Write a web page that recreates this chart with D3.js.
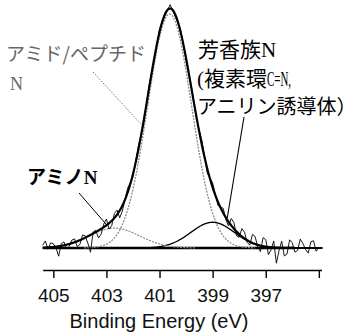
<!DOCTYPE html>
<html>
<head>
<meta charset="utf-8">
<script src="https://cdn.jsdelivr.net/npm/d3@7"></script>
<style>
  body { margin: 0; background: #fff; }
</style>
</head>
<body>
<svg id="chart" width="364" height="333"></svg>
<script>
// raw N1s spectrum (0.1 eV in the noisy tails, 0.2 eV over the peak)
const energies = [405.4, 405.3, 405.2, 405.1, 405.0, 404.9, 404.8, 404.7, 404.6, 404.5,
  404.4, 404.3, 404.2, 404.1, 404.0, 403.9, 403.8, 403.7, 403.6, 403.5,
  403.4, 403.3, 403.2, 403.1, 403.0, 402.9, 402.8, 402.7, 402.6, 402.5,
  402.4, 402.2, 402.0, 401.8, 401.6, 401.4, 401.2, 401.0, 400.8, 400.6,
  400.4, 400.2, 400.0, 399.8, 399.6, 399.4, 399.2, 399.0, 398.8, 398.6,
  398.5, 398.4, 398.3, 398.2, 398.1, 398.0, 397.9, 397.8, 397.7, 397.6,
  397.5, 397.4, 397.3, 397.2, 397.1, 397.0, 396.9, 396.8, 396.7, 396.6,
  396.5, 396.4, 396.3, 396.2, 396.1, 396.0, 395.9, 395.8, 395.7, 395.6,
  395.5, 395.4, 395.3, 395.2, 395.1, 395.0];
const counts = [1.2, 3.0, -0.5, 2.2, 1.8, 0.2, -3.5, 1.9, 2.6, -0.4,
  0.8, 3.4, 3.9, 0.6, 1.5, 5.6, 5.2, 2.1, -1.8, 6.9,
  7.5, 4.3, 5.9, 10.2, 12.4, 8.1, 9.6, 14.8, 16.2, 12.9,
  15.8, 25.6, 30.4, 43.5, 53.0, 69.1, 80.2, 93.5, 99.1, 104.0,
  98.7, 92.9, 80.3, 69.0, 54.6, 45.7, 31.9, 27.8, 18.2, 16.9,
  12.0, 9.4, 12.6, 10.9, 5.2, 4.6, 8.3, 6.8, 2.4, 1.2,
  5.8, 4.9, 0.3, -1.5, 4.4, 3.6, -2.8, -0.8, 3.0, -6.5,
  -1.2, 2.9, -3.4, -2.6, 3.5, 2.2, -1.8, -1.0, 3.8, 1.9,
  -0.6, -2.2, 2.7, 3.1, -1.4, 0.4];

// fitted peaks: centre (eV), height, gaussian sigma (eV)
const peakNames = ["amide", "aromatic", "amino"];
const peakCenters = [400.62, 399.0, 402.7];
const peakHeights = [100, 11, 8.5];
const peakSigmas = [0.83, 0.82, 0.95];

const tickValues = [405, 403, 401, 399, 397, 395];
const tickLabels = ["405", "403", "401", "399", "397", ""];

const svg = d3.select("#chart");

const x = d3.scaleLinear().domain([405.4, 394.9]).range([42.7, 321.5]);
const y = d3.scaleLinear().domain([0, 100]).range([248, 14]);

const gauss = (i, e) => peakHeights[i] * Math.exp(-0.5 * Math.pow((e - peakCenters[i]) / peakSigmas[i], 2));
const grid = d3.range(405.4, 394.85, -0.02);

// baseline
svg.append("line")
  .attr("x1", x(405.4)).attr("x2", x(395.9))
  .attr("y1", y(0)).attr("y2", y(0))
  .attr("stroke", "#000").attr("stroke-width", 2.5);

const line = d3.line().x(d => x(d[0])).y(d => y(d[1]));

// components
const compStyle = {
  amide: { stroke: "#8a8a8a", width: 1.3, dash: "2,1.2" },
  aromatic: { stroke: "#000", width: 1.3, dash: null },
  amino: { stroke: "#8a8a8a", width: 1.2, dash: "2,1.2" }
};
peakNames.forEach((name, i) => {
  const pts = grid.map(e => [e, gauss(i, e)]).filter(d => d[1] > 0.05);
  svg.append("path")
    .attr("d", line(pts))
    .attr("fill", "none")
    .attr("stroke", compStyle[name].stroke)
    .attr("stroke-width", compStyle[name].width)
    .attr("stroke-dasharray", compStyle[name].dash);
});

// envelope
const env = grid.map(e => [e, peakNames.reduce((s, n, i) => s + gauss(i, e), 0)]);
svg.append("path")
  .attr("d", line(env))
  .attr("fill", "none")
  .attr("stroke", "#000")
  .attr("stroke-width", 2.2);

// raw data
svg.append("path")
  .attr("d", line(energies.map((e, i) => [e, counts[i]])))
  .attr("fill", "none")
  .attr("stroke", "#000")
  .attr("stroke-width", 0.9);

// pointers
svg.append("line").attr("x1", 93).attr("y1", 72).attr("x2", x(401.7)).attr("y2", 124)
  .attr("stroke", "#777").attr("stroke-width", 1).attr("stroke-dasharray", "1.5,1.5");
svg.append("line").attr("x1", 244).attr("y1", 117).attr("x2", x(398.45)).attr("y2", 218)
  .attr("stroke", "#000").attr("stroke-width", 1.1);
svg.append("line").attr("x1", 79).attr("y1", 193).attr("x2", x(403.02)).attr("y2", 224)
  .attr("stroke", "#000").attr("stroke-width", 1);

// labels
const jp = "'Noto Sans CJK JP', sans-serif";
const serif = "'Liberation Serif', serif";

svg.append("text").attr("x", 6).attr("y", 61)
  .style("font-family", jp).style("font-size", "19px").attr("fill", "#666")
  .text("アミド/ペプチド");
svg.append("text").attr("x", 10).attr("y", 90)
  .style("font-family", serif).style("font-size", "18px").attr("fill", "#666")
  .text("N");

const a1 = svg.append("text").attr("x", 198).attr("y", 57)
  .style("font-family", jp).style("font-size", "21px").attr("fill", "#000");
a1.append("tspan").text("芳香族");
a1.append("tspan").style("font-family", serif).text("N");

const a2 = svg.append("text").attr("x", 197).attr("y", 86)
  .style("font-family", jp).style("font-size", "21px").attr("fill", "#000");
a2.append("tspan").style("font-family", serif).text("(");
a2.append("tspan").text("複素環");
a2.append("tspan").style("font-family", serif)
  .attr("textLength", 24).attr("lengthAdjust", "spacingAndGlyphs").text("C=N,");

svg.append("text").attr("x", 197).attr("y", 114)
  .style("font-family", jp).style("font-size", "20px").attr("fill", "#000")
  .text("アニリン誘導体）");

const a3 = svg.append("text").attr("x", 27).attr("y", 184)
  .style("font-family", jp).style("font-size", "19px").style("font-weight", "bold").attr("fill", "#000");
a3.append("tspan").text("アミノ");
a3.append("tspan").style("font-family", serif).text("N");

// x axis
const axis = d3.axisBottom(x)
  .tickValues(tickValues)
  .tickFormat((d, i) => tickLabels[i])
  .tickSizeInner(8)
  .tickSizeOuter(0)
  .tickPadding(10.5);

const gx = svg.append("g").attr("transform", "translate(0,270)").call(axis);
gx.select(".domain").attr("stroke-width", 1.6);
gx.selectAll(".tick line").attr("stroke-width", 1.4);
gx.selectAll(".tick text")
  .style("font-family", "'Liberation Sans', Arial, sans-serif")
  .style("font-size", "19px")
  .attr("fill", "#111");

svg.append("text")
  .attr("x", 159).attr("y", 328)
  .attr("text-anchor", "middle")
  .style("font-family", "'Liberation Sans', Arial, sans-serif")
  .style("font-size", "20px")
  .attr("fill", "#111")
  .text("Binding Energy (eV)");
</script>
</body>
</html>
